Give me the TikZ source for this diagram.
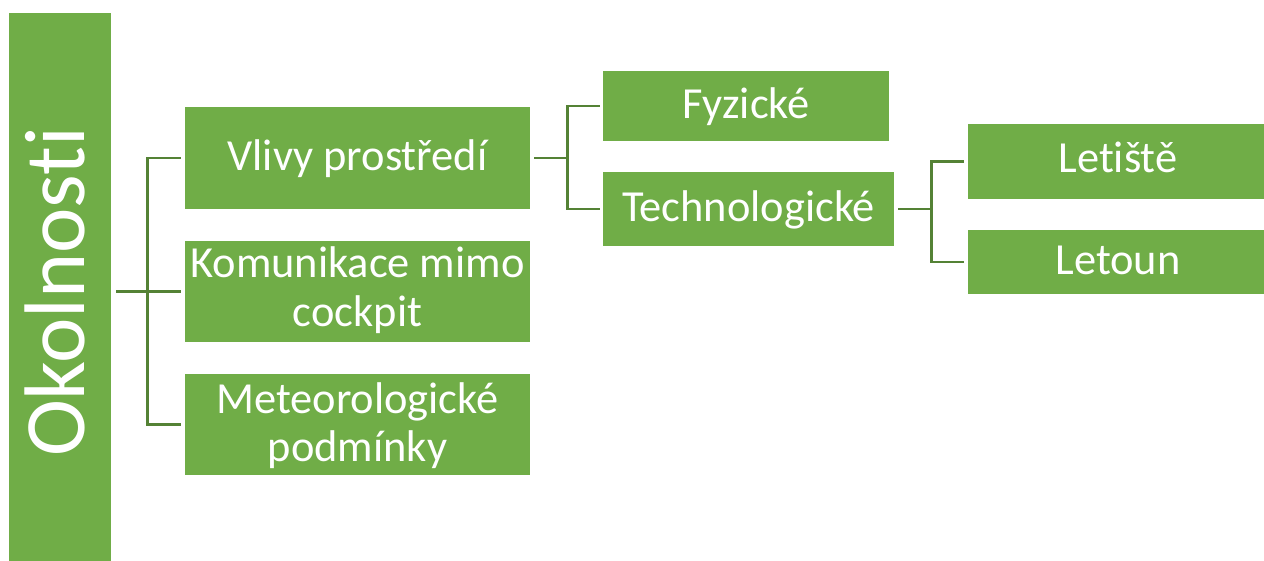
\documentclass[tikz,border=0pt]{standalone}
\usepackage{fontspec}
\setmainfont{Carlito}[Ligatures={NoCommon,NoContextual}]
\usetikzlibrary{calc}
\definecolor{boxgreen}{HTML}{70AD47}
\definecolor{linegreen}{HTML}{548235}
\tikzset{
  box/.style={fill=boxgreen, draw=none, inner sep=0pt, rectangle},
  txt/.style={text=white, inner sep=0pt, anchor=base, font=\fontsize{22.2pt}{24.5pt}\selectfont},
  bigtxt/.style={text=white, inner sep=0pt, anchor=base, rotate=90, font=\fontsize{43pt}{48pt}\selectfont},
  conn/.style={draw=linegreen, line width=1.3pt}
}
\begin{document}
\begin{tikzpicture}[x=0.5pt, y=-0.5pt]
\useasboundingbox (0,0) rectangle (1264,561);
\fill[white] (0,0) rectangle (1264,561);
% boxes
\node[box, minimum width=51pt, minimum height=274pt] (okol) at (60,287) {};
\node[box, minimum width=172.5pt, minimum height=51pt] (vlivy) at (357.5,158) {};
\node[box, minimum width=172.5pt, minimum height=50.5pt] (kom) at (357.5,291.5) {};
\node[box, minimum width=172.5pt, minimum height=50.5pt] (met) at (357.5,424.5) {};
\node[box, minimum width=143pt, minimum height=35pt] (fyz) at (746,106) {};
\node[box, minimum width=145.5pt, minimum height=37pt] (tech) at (748.5,209) {};
\node[box, minimum width=148pt, minimum height=37.5pt] (letiste) at (1116,161.5) {};
\node[box, minimum width=148pt, minimum height=32pt] (letoun) at (1116,262) {};
% texts
\node[bigtxt] (tokol) at (84,292) {Okolnosti};
\node[txt] (tvlivy) at (357.5,171) {Vlivy prostředí};
\node[txt] (tkom1) at (357.5,278) {Komunikace mimo};
\node[txt] (tkom2) at (357.5,327) {cockpit};
\node[txt] (tmet1) at (357.5,413) {Meteorologické};
\node[txt] (tmet2) at (357.5,461) {podmínky};
\node[txt] (tfyz) at (746,119) {Fyzické};
\node[txt] (ttech) at (748.5,222) {Technologické};
\node[txt] (tletiste) at (1118,173) {Letiště};
\node[txt] (tletoun) at (1118,275) {Letoun};
% junctions
\coordinate (j1) at ($(kom.west)+(-37,0)$);
\coordinate (j2) at ($(vlivy.east)+(37,0)$);
\coordinate (j3) at ($(tech.east)+(37,0)$);
% connectors
\draw[conn] ($(okol.east |- kom.west)+(5,0)$) -- ($(kom.west)+(-4,0)$);
\draw[conn] ($(vlivy.west)+(-4,0)$) -| (j1) |- ($(met.west)+(-4,0)$);
\draw[conn] ($(vlivy.east)+(4,0)$) -- (j2);
\draw[conn] ($(fyz.west)+(-3,0)$) -| (j2) |- ($(tech.west)+(-3,0)$);
\draw[conn] ($(tech.east)+(4,0)$) -- (j3);
\draw[conn] ($(letiste.west)+(-4,0)$) -| (j3) |- ($(letoun.west)+(-4,0)$);
\end{tikzpicture}
\end{document}
